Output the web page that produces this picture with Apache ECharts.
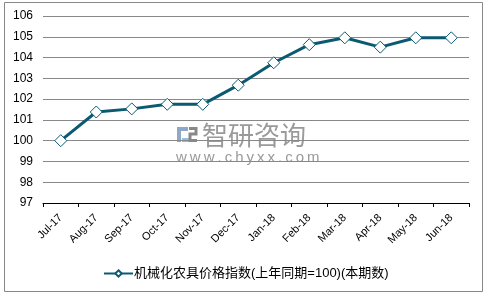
<!DOCTYPE html>
<html>
<head>
<meta charset="utf-8">
<script src="https://cdn.jsdelivr.net/npm/echarts@6/dist/echarts.min.js"></script>
<style>
  html, body { margin: 0; padding: 0; background: #fff; }
  #chart { width: 488px; height: 295px; }
</style>
</head>
<body>
<div id="chart"></div>
<script>
var months = ['Jul-17', 'Aug-17', 'Sep-17', 'Oct-17', 'Nov-17', 'Dec-17',
  'Jan-18', 'Feb-18', 'Mar-18', 'Apr-18', 'May-18', 'Jun-18'];
var indexValues = [100, 101.38, 101.53, 101.75, 101.75, 102.67,
  103.75, 104.62, 104.95, 104.5, 104.95, 104.95];
var seriesName = '机械化农具价格指数(上年同期=100)(本期数)';

var myChart = echarts.init(document.getElementById('chart'));
var lineColor = '#0b5a72';
var font = 'Arial, "Liberation Sans", "Noto Sans CJK SC", sans-serif';
var wmGrey = '#9a9a9a';

var option = {
  backgroundColor: '#fff',
  animation: false,
  graphic: [
    {
      type: 'rect',
      shape: { x: 4.5, y: 2.5, width: 478, height: 289 },
      style: { fill: 'none', stroke: '#888', lineWidth: 1 },
      silent: true
    },
    // watermark logo (rough)
    { type: 'rect', shape: { x: 177, y: 127, width: 11, height: 4 }, style: { fill: '#8fa8c8' }, silent: true },
    { type: 'rect', shape: { x: 177, y: 131, width: 4, height: 11 }, style: { fill: '#8fa8c8' }, silent: true },
    { type: 'rect', shape: { x: 182, y: 138, width: 7, height: 4 }, style: { fill: '#8ec0e8' }, silent: true },
    {
      type: 'polyline', silent: true,
      shape: { points: [[189, 128.5], [196, 128.5], [196, 134], [190, 134], [190, 140.5], [197, 140.5]] },
      style: { stroke: '#888', lineWidth: 3, fill: 'none' }
    },
    {
      type: 'text', left: 202, top: 122, z: 0, silent: true,
      style: { text: '智研咨询', fill: wmGrey, font: '26px "Noto Sans CJK SC", sans-serif' }
    },
    {
      type: 'text', left: 176, top: 150, z: 0, silent: true,
      style: { text: 'w\u2009w\u2009w\u2009.\u2009c\u2009h\u2009y\u2009x\u2009x\u2009.\u2009c\u2009o\u2009m', fill: wmGrey, font: '15px ' + font }
    }
  ],
  grid: { left: 43, right: 19, top: 16, bottom: 92 },
  legend: {
    top: 262,
    left: 98,
    itemWidth: 29,
    itemHeight: 8,
    itemGap: 4,
    data: [seriesName],
    textStyle: { color: '#000', fontSize: 13, fontFamily: font, padding: [0, 0, 0, -4] }
  },
  xAxis: {
    type: 'category',
    data: months,
    boundaryGap: true,
    axisLine: { lineStyle: { color: '#000', width: 1 } },
    axisTick: { show: true, length: 4, lineStyle: { color: '#000' } },
    axisLabel: { rotate: 45, color: '#000', fontSize: 11, fontFamily: font, interval: 0, margin: 13 }
  },
  yAxis: {
    type: 'value',
    min: 97,
    max: 106,
    interval: 1,
    axisLine: { show: false },
    axisTick: { show: false },
    axisLabel: { color: '#000', fontSize: 12, fontFamily: font, margin: 10 },
    splitLine: { lineStyle: { color: '#888', width: 1 } }
  },
  series: [{
    name: seriesName,
    type: 'line',
    data: indexValues,
    symbol: 'diamond',
    symbolSize: 12,
    lineStyle: { color: lineColor, width: 3 },
    itemStyle: { color: '#fff', borderColor: lineColor, borderWidth: 1 },
    z: 3
  }]
};

myChart.setOption(option);
</script>
</body>
</html>
